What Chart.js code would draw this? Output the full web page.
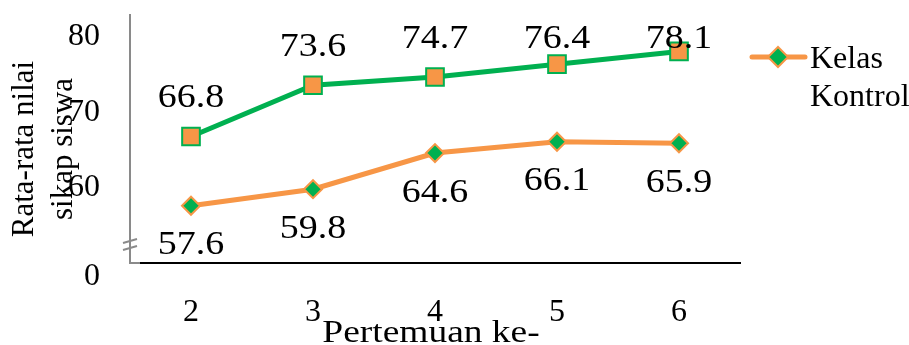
<!DOCTYPE html>
<html>
<head>
<meta charset="utf-8">
<script src="https://cdn.jsdelivr.net/npm/chart.js@4"></script>
<style>
  html, body { margin: 0; padding: 0; background: #fff; }
  #wrap { width: 909px; height: 345px; }
</style>
</head>
<body>
<div id="wrap"><canvas id="chart" width="909" height="345"></canvas></div>
<script>
// values
const meetings = ['2', '3', '4', '5', '6'];
const eksperimen = [66.8, 73.6, 74.7, 76.4, 78.1];
const kontrol = [57.6, 59.8, 64.6, 66.1, 65.9];
// axis is broken below 60; the "0" sits a little under the axis line
const yTickValues = [48.2, 60, 70, 80];
const yTickLabels = ['0', '60', '70', '80'];

const GREEN = '#00B050';
const ORANGE = '#F79646';
const FONT = '"Liberation Serif", "DejaVu Serif", serif';

// the source text looks a bit wider than normal, stretch a little
function wideText(ctx, text, x, y, sx) {
  ctx.save();
  ctx.translate(x, y);
  ctx.scale(sx, 1);
  ctx.fillText(text, 0, 0);
  ctx.restore();
}

// value labels above / below the markers
const valueLabels = {
  id: 'valueLabels',
  afterDatasetsDraw(chart) {
    const ctx = chart.ctx;
    const top = chart.chartArea.top;
    ctx.save();
    ctx.font = '33px ' + FONT;
    ctx.fillStyle = '#000';
    ctx.textAlign = 'center';
    ctx.textBaseline = 'middle';
    chart.data.datasets.forEach((ds, di) => {
      const meta = chart.getDatasetMeta(di);
      meta.data.forEach((pt, i) => {
        let y;
        if (ds.labelAbove) {
          y = Math.max(pt.y - 38, top + 25);
        } else {
          y = pt.y + 40;
        }
        wideText(ctx, ds.data[i].toFixed(1), pt.x, y, 1.15);
      });
    });
    ctx.restore();
  }
};

// axis titles, legend and the axis break mark
const extras = {
  id: 'extras',
  afterDraw(chart) {
    const ctx = chart.ctx;
    const area = chart.chartArea;
    ctx.save();

    // y title, two rotated lines
    ctx.font = '31px ' + FONT;
    ctx.fillStyle = '#000';
    ctx.textAlign = 'center';
    ctx.textBaseline = 'alphabetic';
    const midY = 149;
    ctx.save();
    ctx.translate(33, midY);
    ctx.rotate(-Math.PI / 2);
    ctx.fillText('Rata-rata nilai', 0, 0);
    ctx.restore();
    ctx.save();
    ctx.translate(72, midY);
    ctx.rotate(-Math.PI / 2);
    ctx.fillText('sikap siswa', 0, 0);
    ctx.restore();

    // x title
    ctx.font = '32px ' + FONT;
    wideText(ctx, 'Pertemuan ke-', 431, 342, 1.17);

    // break mark on the y axis, plus the short grey foot before the x axis
    ctx.strokeStyle = '#8a8a8a';
    ctx.lineWidth = 2;
    [241, 248].forEach(yy => {
      ctx.beginPath();
      ctx.moveTo(area.left - 7, yy + 2);
      ctx.lineTo(area.left + 7, yy - 2);
      ctx.stroke();
    });
    ctx.beginPath();
    ctx.moveTo(area.left - 1, area.bottom);
    ctx.lineTo(area.left + 10, area.bottom);
    ctx.stroke();

    // legend (only Kelas Kontrol is visible in the source)
    const ds = chart.data.datasets[1];
    const lx = area.right + 12, ly = 57;
    ctx.strokeStyle = ds.borderColor;
    ctx.lineWidth = ds.borderWidth;
    ctx.lineCap = 'round';
    ctx.beginPath();
    ctx.moveTo(lx, ly);
    ctx.lineTo(lx + 53, ly);
    ctx.stroke();
    ctx.fillStyle = ds.pointBackgroundColor;
    ctx.strokeStyle = ds.pointBorderColor;
    ctx.lineWidth = 2;
    Chart.helpers.drawPoint(ctx, { pointStyle: 'rectRot', radius: 10, borderWidth: 2 }, lx + 26, ly);
    ctx.fillStyle = '#000';
    ctx.font = '32px ' + FONT;
    ctx.textAlign = 'left';
    ctx.textBaseline = 'middle';
    const name = ds.label.split(' ');
    ctx.fillText(name[0], lx + 58, 60);
    ctx.fillText(name[1], lx + 58, 98);

    ctx.restore();
  }
};

const chart = new Chart(document.getElementById('chart'), {
  type: 'line',
  data: {
    labels: meetings,
    datasets: [
      {
        label: 'Kelas Eksperimen',
        data: eksperimen,
        borderColor: GREEN,
        borderWidth: 5,
        pointStyle: 'rect',
        pointRadius: 12.5,
        pointBackgroundColor: ORANGE,
        pointBorderColor: GREEN,
        pointBorderWidth: 2,
        labelAbove: true,
        tension: 0
      },
      {
        label: 'Kelas Kontrol',
        data: kontrol,
        borderColor: ORANGE,
        borderWidth: 5,
        pointStyle: 'rectRot',
        pointRadius: 9,
        pointBackgroundColor: GREEN,
        pointBorderColor: ORANGE,
        pointBorderWidth: 2,
        labelAbove: false,
        tension: 0
      }
    ]
  },
  options: {
    responsive: false,
    animation: false,
    clip: false,
    layout: { padding: { left: 0, right: 169, top: 13, bottom: 0 } },
    plugins: {
      legend: { display: false },
      tooltip: { enabled: false }
    },
    scales: {
      x: {
        offset: true,
        grid: { display: false, drawTicks: false },
        border: { display: true, color: '#000', width: 2 },
        ticks: {
          color: '#000',
          font: { family: FONT, size: 32 },
          padding: 30
        },
        afterFit(scale) {
          scale.height = 82;
          scale.paddingLeft = 0;
          scale.paddingRight = 0;
        }
      },
      y: {
        min: 50,
        max: 83,
        grid: { display: false, drawTicks: false },
        border: { display: true, color: '#8a8a8a', width: 2 },
        afterBuildTicks(scale) {
          scale.ticks = yTickValues.map(v => ({ value: v }));
        },
        ticks: {
          color: '#000',
          font: { family: FONT, size: 32 },
          padding: 30,
          callback: (value) => {
            const i = yTickValues.indexOf(value);
            return i >= 0 ? yTickLabels[i] : '';
          }
        },
        afterFit(scale) {
          scale.width = 130;
          scale.paddingTop = 0;
          scale.paddingBottom = 0;
        }
      }
    }
  },
  plugins: [valueLabels, extras]
});
</script>
</body>
</html>
